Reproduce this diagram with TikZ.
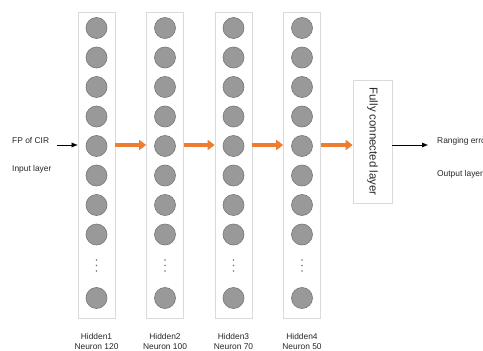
\documentclass[tikz,border=0pt]{standalone}
\usepackage{fontspec}
\setmainfont{Liberation Sans}
\usepackage{tikz}
\usetikzlibrary{arrows,arrows.meta}

\definecolor{neurongray}{RGB}{153,153,153}
\definecolor{rimgray}{RGB}{118,118,118}
\definecolor{boxgray}{RGB}{218,218,218}
\definecolor{fcorange}{RGB}{237,125,49}

\tikzset{
  neuron/.style={circle, draw=rimgray, fill=neurongray, line width=0.6pt, minimum size=21pt, inner sep=0pt},
  layerbox/.style={draw=boxgray, line width=0.6pt, minimum width=37pt, minimum height=306pt, inner sep=0pt},
  feed/.style={draw=fcorange, line width=4.5pt, -{Triangle[length=7pt,width=10pt]}},
  label/.style={font=\fontsize{8.4}{10}\selectfont, text=black!85, inner sep=0pt}
}

\begin{document}
\begin{tikzpicture}[x=1pt,y=-1pt]
\clip (0,0) rectangle (483,351);
%\draw [help lines] grid (483,351);
\node[layerbox] (H1) at (96.5,165) {};
\node[layerbox] (H2) at (165,165) {};
\node[layerbox] (H3) at (233.5,165) {};
\node[layerbox] (H4) at (302,165) {};
\node[draw=boxgray, line width=0.6pt, minimum width=39pt, minimum height=123pt, inner sep=0pt] (FC) at (372.5,141.5) {};
\node[rotate=-90, font=\fontsize{11.4}{13}\selectfont, text=black!85] at (FC.center) {Fully connected layer};

\foreach \c/\x in {1/96.5,2/165,3/233.5,4/302}{
  \foreach \r/\y in {1/28,2/57.5,3/87,4/116.5,5/146,6/175.5,7/205,8/234.5,9/298}
    \node[neuron] (n\c-\r) at (\x,\y) {};
  \foreach \y in {260,265.5,271}
    \fill[rimgray] (\x,\y) circle (0.8pt);
}

\node[label, anchor=west] (A) at (12,141) {FP of CIR};
\node[label, anchor=west] (B) at (12,169) {Input layer};
\node[label, anchor=west] (R) at (437,141) {Ranging error};
\node[label, anchor=west] (O) at (437,174) {Output layer};
\node[label, align=center] (L1) at (96.5,341.5) {Hidden1\\Neuron 120};
\node[label, align=center] (L2) at (165,341.5) {Hidden2\\Neuron 100};
\node[label, align=center] (L3) at (233.5,341.5) {Hidden3\\Neuron 70};
\node[label, align=center] (L4) at (302,341.5) {Hidden4\\Neuron 50};

\coordinate (in) at (57,145);
\coordinate (out) at (428,145);
\draw[>={Latex[length=6pt,width=5pt]},->] (in) -- (H1.west |- in);
\draw[>={Latex[length=6pt,width=5pt]},->] (FC.east |- out) -- (out);

\draw[feed] (H1.east |- in) -- (H2.west |- in);
\draw[feed] (H2.east |- in) -- (H3.west |- in);
\draw[feed] (H3.east |- in) -- (H4.west |- in);
\draw[feed] (H4.east |- in) -- (FC.west |- in);

\end{tikzpicture}
\end{document}
